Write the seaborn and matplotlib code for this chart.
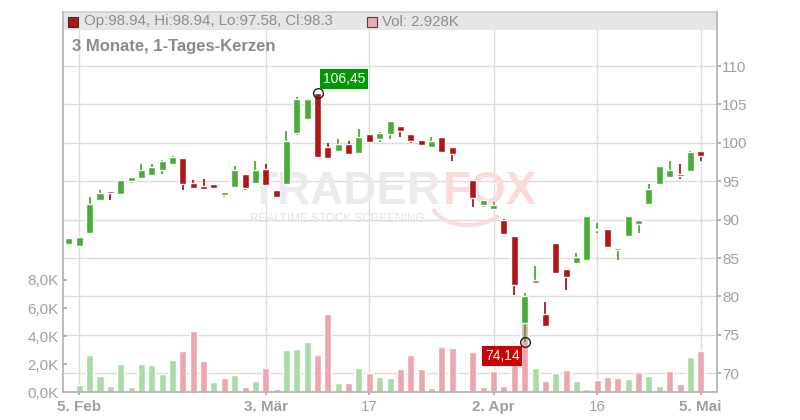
import matplotlib
matplotlib.use("Agg")
import matplotlib.pyplot as plt
import numpy as np
import pandas as pd
import seaborn as sns
from matplotlib.patches import Rectangle, Arc

sns.set_theme(style="white")
plt.rcParams['font.family'] = ['Liberation Sans', 'DejaVu Sans']

# daily candles, 4 Feb .. 5 May (trading days)
opens = [86.85, 86.6, 88.2, 92.5, 93.6, 93.3, 95.0, 95.4, 95.8, 96.4,
         97.3, 98.0, 94.8, 94.4, 94.7, 93.2, 94.3, 96.0, 94.8, 96.6,
         93.8, 94.7, 101.25, 103.1, 106.45, 99.5, 98.9, 99.9, 98.65, 101.1,
         100.55, 101.1, 102.25, 101.1, 100.4, 99.45, 100.8, 99.4, 97.4, 95.1,
         91.85, 91.45, 90.0, 87.9, 76.6, 81.7, 77.75, 86.9, 83.6, 84.3,
         84.8, 88.6, 88.85, 86.1, 87.9, 89.5, 92.0, 94.6, 95.5, 95.85,
         96.3, 98.94]
highs = [87.64, 87.8, 93.0, 93.9, 93.6, 95.2, 95.5, 97.3, 97.3, 97.8,
         98.35, 98.0, 95.1, 95.3, 94.7, 93.65, 97.0, 96.0, 97.6, 97.2,
         93.8, 101.5, 106.0, 105.7, 106.45, 100.0, 100.55, 100.3, 101.8, 101.1,
         101.4, 102.9, 102.25, 101.1, 100.4, 100.8, 100.8, 99.4, 97.4, 95.1,
         92.5, 92.35, 90.1, 87.9, 80.45, 84.0, 79.3, 86.9, 83.6, 85.7,
         90.5, 89.55, 88.85, 86.3, 90.5, 90.0, 94.6, 97.05, 97.6, 97.2,
         98.9, 98.94]
lows = [86.85, 86.6, 88.2, 92.5, 92.5, 93.3, 94.8, 95.4, 95.8, 96.0,
        97.3, 93.8, 94.1, 93.9, 94.1, 93.0, 94.3, 93.9, 94.8, 94.5,
        92.9, 94.7, 101.0, 103.1, 98.1, 97.9, 98.9, 98.5, 98.65, 100.0,
        100.1, 100.5, 100.7, 99.95, 99.7, 99.3, 98.8, 97.6, 97.1, 91.7,
        91.7, 91.45, 88.0, 80.25, 74.14, 81.7, 76.2, 83.1, 80.9, 84.3,
        84.8, 88.2, 86.3, 84.7, 87.9, 88.2, 92.0, 94.6, 95.5, 95.3,
        96.3, 97.58]
closes = [87.64, 87.77, 92.1, 93.5, 93.5, 95.1, 95.5, 96.5, 96.9, 97.7,
          98.2, 94.6, 94.1, 93.95, 94.1, 93.6, 96.5, 94.1, 96.4, 94.5,
          92.9, 100.2, 105.65, 105.65, 98.2, 98.0, 99.8, 98.6, 100.8, 100.1,
          101.25, 102.8, 101.5, 100.2, 99.7, 100.2, 98.8, 98.5, 97.2, 92.8,
          92.5, 91.95, 88.1, 81.45, 80.1, 82.2, 76.2, 83.1, 82.5, 85.15,
          90.5, 88.7, 86.45, 86.3, 90.5, 90.0, 94.0, 97.05, 96.5, 95.7,
          98.85, 98.3]
volumes = [0.0, 0.52, 2.67, 1.17, 0.45, 2.02, 0.38, 2.02, 1.95, 1.31,
           2.31, 2.95, 4.38, 2.24, 0.74, 1.02, 1.24, 0.38, 0.81, 1.74,
           0.24, 3.02, 3.10, 3.60, 2.67, 5.60, 0.67, 0.67, 1.74, 1.38,
           1.10, 1.02, 1.67, 2.67, 1.67, 0.31, 3.24, 3.17, 0.10, 2.88,
           0.38, 1.52, 0.45, 2.60, 6.00, 1.74, 0.81, 1.38, 1.60, 0.81,
           0.24, 0.88, 1.10, 1.02, 0.95, 1.45, 1.17, 0.45, 1.52, 0.60,
           2.52, 2.93]
vol_dir = ("up up up up up up up up up up "
           "up down down down up down up down up down "
           "down up up up down down up down up down "
           "up up down down down up down down down down "
           "down down down down down up down up down up "
           "up down down down up down up up down down "
           "up down").split()

date_ticks = [1, 19, 29, 41, 51, 61]
date_labels = ["5. Feb", "3. Mär", "17", "2. Apr", "16", "5. Mai"]
date_bold = [True, True, False, True, False, True]
price_ticks = [70, 75, 80, 85, 90, 95, 100, 105, 110]
vol_ticks = [0, 2, 4, 6, 8]
vol_labels = ["0,0K", "2,0K", "4,0K", "6,0K", "8,0K"]

GREEN = "#48ad34"
RED = "#b01616"
GRID = "#dcdcdc"
TXT = "#a0a0a0"

idx = np.arange(len(opens))
o = np.array(opens); c = np.array(closes)
candle_col = [GREEN if cc >= oo else RED for oo, cc in zip(o, c)]

fig = plt.figure(figsize=(8, 4.2), dpi=100)
rect = [63 / 800, (420 - 392.3) / 420, (716.7 - 63) / 800, (392.3 - 12) / 420]
ax_grid = fig.add_axes(rect)
ax_vol = fig.add_axes(rect, sharex=ax_grid)
ax_px = fig.add_axes(rect, sharex=ax_grid)
for a in (ax_vol, ax_px):
    a.patch.set_visible(False)

xmin, xmax = -0.574, 62.54
pmin, pmax = 67.53, 117.03

# background layer: grid, header band, watermark
ax_grid.set_ylim(pmin, pmax)
ax_grid.set_yticks(price_ticks)
ax_grid.set_xticks(date_ticks)
ax_grid.grid(True, color=GRID, lw=1.0)
ax_grid.tick_params(left=False, bottom=False, labelleft=False, labelbottom=False)
for s in ax_grid.spines.values():
    s.set_visible(False)
ax_grid.spines['top'].set_visible(True)
ax_grid.spines['top'].set_color("#cfcfcf")
band_h = 18 / 380.3
ax_grid.add_patch(Rectangle((0, 1 - band_h), 1, band_h, transform=ax_grid.transAxes,
                            fc="#e6e6e6", ec="none", zorder=1))
wm_y = 1 - (192 - 12) / 380.3
ax_grid.text((441 - 63) / 653.7, wm_y, "TRADER", transform=ax_grid.transAxes,
             ha="right", va="center", fontsize=33, fontweight="bold", color="#ebebeb", zorder=1)
ax_grid.text((443 - 63) / 653.7, wm_y, "FOX", transform=ax_grid.transAxes,
             ha="left", va="center", fontsize=33, fontweight="bold", color="#fbdada", zorder=1)
ax_grid.text((250 - 63) / 653.7, 1 - (219 - 12) / 380.3, "REALTIME STOCK SCREENING",
             transform=ax_grid.transAxes, ha="left", va="center", fontsize=8.5,
             color="#e3e3e3", zorder=1)
# fox tail swoosh
ax_grid.add_patch(Arc(((468 - 63) / 653.7, 1 - (205 - 12) / 380.3), 70 / 653.7, 40 / 380.3,
                      theta1=190, theta2=330, transform=ax_grid.transAxes,
                      color="#fbdada", lw=3, zorder=1))

# volume layer
df = pd.DataFrame({"idx": idx, "vol": volumes, "dir": vol_dir})
sns.barplot(data=df, x="idx", y="vol", hue="dir",
            palette={"up": "#a9dba6", "down": "#eda6ae"},
            native_scale=True, dodge=False, width=0.68, saturation=1,
            errorbar=None, legend=False, ax=ax_vol)
ax_vol.set_ylim(0, 380.3 / 14.04)
ax_vol.set_yticks(vol_ticks)
ax_vol.set_yticklabels(vol_labels)
ax_vol.set_xlabel("")
ax_vol.set_ylabel("")
ax_vol.tick_params(axis="y", direction="in", length=3, pad=3, labelsize=11,
                   labelcolor=TXT, color="#aaaaaa", left=True)
ax_vol.tick_params(axis="x", bottom=False, labelbottom=False)
for s in ["top", "right"]:
    ax_vol.spines[s].set_visible(False)
ax_vol.spines["left"].set_color("#b4b4b4")
ax_vol.spines["bottom"].set_color("#b4b4b4")

# candle layer
ax_px.vlines(idx, lows, highs, colors=candle_col, lw=1.3, zorder=2)
body = np.maximum(np.abs(c - o), 0.18)
ax_px.bar(idx, body, bottom=np.minimum(o, c), width=0.68, color=candle_col, zorder=3)
ax_px.set_ylim(pmin, pmax)
ax_px.yaxis.tick_right()
ax_px.set_yticks(price_ticks)
ax_px.set_yticklabels([str(t) for t in price_ticks])
ax_px.tick_params(axis="y", right=True, direction="out", length=3, pad=1,
                  labelsize=11, labelcolor=TXT, color="#aaaaaa")
for s in ["top", "left", "bottom"]:
    ax_px.spines[s].set_visible(False)
ax_px.spines["right"].set_color("#b4b4b4")

ax_px.set_xlim(xmin, xmax)
ax_px.set_xticks(date_ticks)
ax_px.set_xticklabels(date_labels)
ax_px.tick_params(axis="x", bottom=True, direction="out", length=2.5, pad=3,
                  labelsize=11, labelcolor=TXT, color="#aaaaaa")
for lab, b in zip(ax_px.get_xticklabels(), date_bold):
    lab.set_fontweight("bold" if b else "normal")

# high / low markers
hi_i = int(np.argmax(highs)); lo_i = int(np.argmin(lows))
ax_px.plot([hi_i, lo_i], [highs[hi_i], lows[lo_i]], "o", mfc="none", mec="#222222",
           ms=7, mew=1.0, zorder=5)
ax_px.annotate(f"{highs[hi_i]:.2f}".replace(".", ","), xy=(hi_i, highs[hi_i]),
               xytext=(3.6, 5.2), textcoords="offset points", ha="left", va="bottom",
               color="white", fontsize=10,
               bbox=dict(boxstyle="square,pad=0.2", fc="#009a00", ec="none"), zorder=6)
ax_px.annotate(f"{lows[lo_i]:.2f}".replace(".", ","), xy=(lo_i, lows[lo_i]),
               xytext=(-3.8, -5.2), textcoords="offset points", ha="right", va="top",
               color="white", fontsize=10,
               bbox=dict(boxstyle="square,pad=0.2", fc="#cc0000", ec="none"), zorder=6)

# header legend
fig.patches.append(Rectangle((68.3 / 800, 1 - 26.7 / 420), 10 / 800, 10 / 420,
                             transform=fig.transFigure, fc=RED, ec="#333333", lw=0.8))
fig.text(84 / 800, 1 - 21.5 / 420,
         f"Op:{opens[-1]}, Hi:{highs[-1]}, Lo:{lows[-1]}, Cl:{closes[-1]}",
         ha="left", va="center", fontsize=10.8, color="#8c8c8c")
fig.patches.append(Rectangle((366.7 / 800, 1 - 26.7 / 420), 10 / 800, 10 / 420,
                             transform=fig.transFigure, fc="#f0a9b1", ec="#444444", lw=0.8))
fig.text(382 / 800, 1 - 21.5 / 420, "Vol: 2.928K",
         ha="left", va="center", fontsize=10.8, color="#8c8c8c")
fig.text(72 / 800, 1 - 47 / 420, "3 Monate, 1-Tages-Kerzen",
         ha="left", va="center", fontsize=12, fontweight="bold", color="#8a8a8a")

fig.savefig("out.png", dpi=100, facecolor="white")
